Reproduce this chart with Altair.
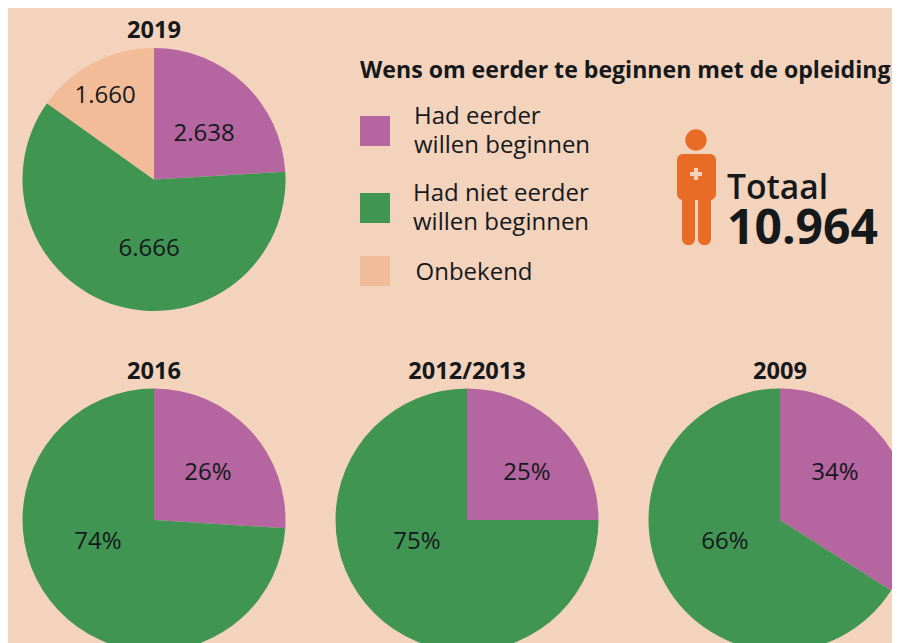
import altair as alt
import pandas as pd

BG = "#F4D3BD"
PURPLE = "#B5659F"
GREEN = "#409552"
PEACH = "#F2BC98"
ORANGE = "#E96C26"
INK = "#15191C"
FONT = "Open Sans"
M = 8

series_names = ["Had eerder willen beginnen", "Had niet eerder willen beginnen", "Onbekend"]
values_2019 = [2638, 6666, 1660]
values_2016 = [26, 74]
values_2012 = [25, 75]
values_2009 = [34, 66]

color_scale = alt.Scale(domain=series_names, range=[PURPLE, GREEN, PEACH])


def pie(values, cx, cy, r=131.5):
    df = pd.DataFrame({"naam": series_names[: len(values)], "waarde": values, "volgorde": range(len(values))})
    return alt.Chart(df).mark_arc(outerRadius=r, innerRadius=0).encode(
        theta=alt.Theta("waarde:Q", stack="normalize", scale=alt.Scale(domain=[0, 1])),
        color=alt.Color("naam:N", scale=color_scale, legend=None),
        order=alt.Order("volgorde:Q"),
        x=alt.value(cx - M),
        y=alt.value(cy - M),
    )


def label(text, x, y, size=24, weight="normal", align="center", color=INK):
    return alt.Chart(pd.DataFrame({"t": [text]})).mark_text(
        font=FONT, fontSize=size, fontWeight=weight, align=align, baseline="alphabetic", color=color,
        lineBreak="\n", lineHeight=29
    ).encode(text="t:N", x=alt.value(x - M), y=alt.value(y - M))


def box(x0, y0, x1, y1, color, radius=0):
    return alt.Chart(pd.DataFrame({"a": [0]})).mark_rect(color=color, cornerRadius=radius).encode(
        x=alt.value(x0 - M), x2=alt.value(x1 - M), y=alt.value(y0 - M), y2=alt.value(y1 - M)
    )


layers = [
    pie(values_2019, 154, 179.5),
    pie(values_2016, 154, 520),
    pie(values_2012, 467, 520),
    pie(values_2009, 780, 520),
    label("2019", 154, 38, size=23.6, weight="bold"),
    label("2016", 154, 379, size=23.6, weight="bold"),
    label("2012/2013", 467, 379, size=23.6, weight="bold"),
    label("2009", 780, 379, size=23.6, weight="bold"),
    label("2.638", 204, 141),
    label("6.666", 149, 256),
    label("1.660", 105, 103),
    label("26%", 208, 480),
    label("74%", 98, 549),
    label("25%", 527, 480),
    label("75%", 417, 549),
    label("34%", 835, 480),
    label("66%", 725, 549),
    label("Wens om eerder te beginnen met de opleiding", 360, 78, size=23.1, weight="bold", align="left"),
    box(360, 116, 390, 146, PURPLE),
    box(360, 193, 390, 223, GREEN),
    box(360, 256, 390, 286, PEACH),
    label("Had eerder\nwillen beginnen", 414, 124, align="left"),
    label("Had niet eerder\nwillen beginnen", 413, 201, align="left"),
    label("Onbekend", 415.5, 280, align="left"),
    # person icon
    alt.Chart(pd.DataFrame({"a": [0]})).mark_circle(color=ORANGE, size=460, opacity=1).encode(
        x=alt.value(696 - M), y=alt.value(140 - M)
    ),
    box(677, 154, 716, 200, ORANGE, 6),
    box(682, 190, 695, 245, ORANGE, 6),
    box(698, 190, 711, 245, ORANGE, 6),
    box(690, 172, 702, 176, BG),
    box(694, 168, 698, 180, BG),
    label("Totaal", 727, 199, size=33.6, weight=600, align="left"),
    label("10.964", 727, 244, size=48, weight="bold", align="left"),
]

chart = alt.layer(*layers).properties(
    width=884, height=635, padding=0, autosize=alt.AutoSizeParams(type="none"), background=BG
).configure_view(stroke=None)

chart.save("out.html", embed_options={"renderer": "svg", "actions": False})
